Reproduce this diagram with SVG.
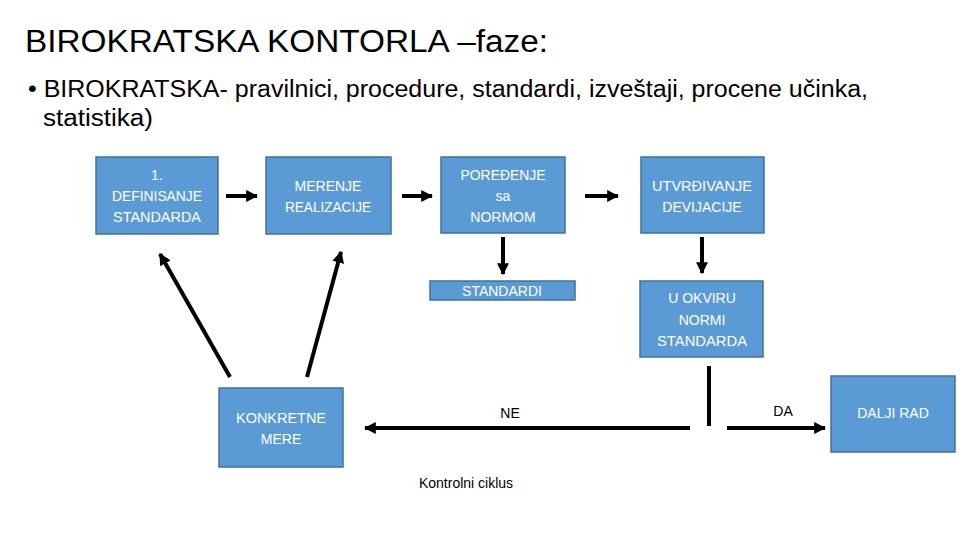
<svg xmlns="http://www.w3.org/2000/svg" width="960" height="540" viewBox="0 0 960 540">
<defs>
<marker id="ah" viewBox="0 0 10 10" refX="9" refY="5" markerWidth="3" markerHeight="3" orient="auto" markerUnits="strokeWidth">
<path d="M0,0 L10,5 L0,10 z" fill="#000"/>
</marker>
</defs>
<style>
.box{fill:#5b9bd5;stroke:#41719c;stroke-width:1.5}
.bt{font-family:"Liberation Sans",Arial,sans-serif;font-size:14px;fill:#ffffff;text-anchor:middle}
.lbl{font-family:"Liberation Sans",Arial,sans-serif;font-size:14px;fill:#000;text-anchor:middle}
.conn{stroke:#000;stroke-width:4;fill:none}
</style>
<rect width="960" height="540" fill="#fff"/>
<text x="25" y="52" font-family="Liberation Sans,Arial,sans-serif" font-size="31" fill="#000" textLength="523" lengthAdjust="spacingAndGlyphs">BIROKRATSKA KONTORLA –faze:</text>
<text x="28" y="97" font-family="Liberation Sans,Arial,sans-serif" font-size="23" fill="#000" textLength="840" lengthAdjust="spacingAndGlyphs">• BIROKRATSKA- pravilnici, procedure, standardi, izveštaji, procene učinka,</text>
<text x="43" y="126" font-family="Liberation Sans,Arial,sans-serif" font-size="23" fill="#000" textLength="110" lengthAdjust="spacingAndGlyphs">statistika)</text>

<g id="connectors">
<line class="conn" x1="226" y1="196" x2="257" y2="196" marker-end="url(#ah)"/>
<line class="conn" x1="402" y1="196" x2="432" y2="196" marker-end="url(#ah)"/>
<line class="conn" x1="585" y1="196" x2="618" y2="196" marker-end="url(#ah)"/>
<line class="conn" x1="503" y1="237" x2="503" y2="274" marker-end="url(#ah)"/>
<line class="conn" x1="702" y1="237" x2="702" y2="273" marker-end="url(#ah)"/>
<line class="conn" x1="230" y1="377" x2="160" y2="254" marker-end="url(#ah)"/>
<line class="conn" x1="307" y1="377" x2="341" y2="252" marker-end="url(#ah)"/>
<line x1="709" y1="366" x2="709" y2="426" stroke="#000" stroke-width="4"/>
<line class="conn" stroke-width="3.5" x1="690" y1="428" x2="365" y2="428" marker-end="url(#ah)"/>
<line class="conn" stroke-width="3.5" x1="727" y1="428" x2="825" y2="428" marker-end="url(#ah)"/>
<text class="lbl" x="510" y="418">NE</text>
<text class="lbl" x="783" y="416">DA</text>
</g>

<g id="n1"><rect class="box" x="96" y="157" width="122" height="77"/>
<text class="bt" x="157" y="180" textLength="12">1.</text><text class="bt" x="157" y="201" textLength="90" lengthAdjust="spacingAndGlyphs">DEFINISANJE</text><text class="bt" x="157" y="222" textLength="88" lengthAdjust="spacingAndGlyphs">STANDARDA</text></g>
<g id="n2"><rect class="box" x="266" y="157" width="125" height="77"/>
<text class="bt" x="328" y="191">MERENJE</text><text class="bt" x="328" y="212" textLength="86" lengthAdjust="spacingAndGlyphs">REALIZACIJE</text></g>
<g id="n3"><rect class="box" x="441" y="157" width="124" height="76"/>
<text class="bt" x="503" y="180" textLength="85" lengthAdjust="spacingAndGlyphs">POREĐENJE</text><text class="bt" x="503" y="201">sa</text><text class="bt" x="503" y="222">NORMOM</text></g>
<g id="n4"><rect class="box" x="641" y="157" width="123" height="76"/>
<text class="bt" x="702" y="191" textLength="100" lengthAdjust="spacingAndGlyphs">UTVRĐIVANJE</text><text class="bt" x="702" y="212">DEVIJACIJE</text></g>
<g id="n5"><rect class="box" x="430" y="281" width="145" height="19"/>
<text class="bt" x="502" y="296">STANDARDI</text></g>
<g id="n6"><rect class="box" x="640" y="281" width="123" height="76"/>
<text class="bt" x="702" y="303">U OKVIRU</text><text class="bt" x="702" y="325">NORMI</text><text class="bt" x="702" y="346" textLength="90" lengthAdjust="spacingAndGlyphs">STANDARDA</text></g>
<g id="n7"><rect class="box" x="219" y="388" width="124" height="79"/>
<text class="bt" x="281" y="423" textLength="90" lengthAdjust="spacingAndGlyphs">KONKRETNE</text><text class="bt" x="281" y="444">MERE</text></g>
<g id="n8"><rect class="box" x="831" y="376" width="124" height="76"/>
<text class="bt" x="893" y="418">DALJI RAD</text></g>
<text class="lbl" x="466" y="488">Kontrolni ciklus</text>
</svg>
